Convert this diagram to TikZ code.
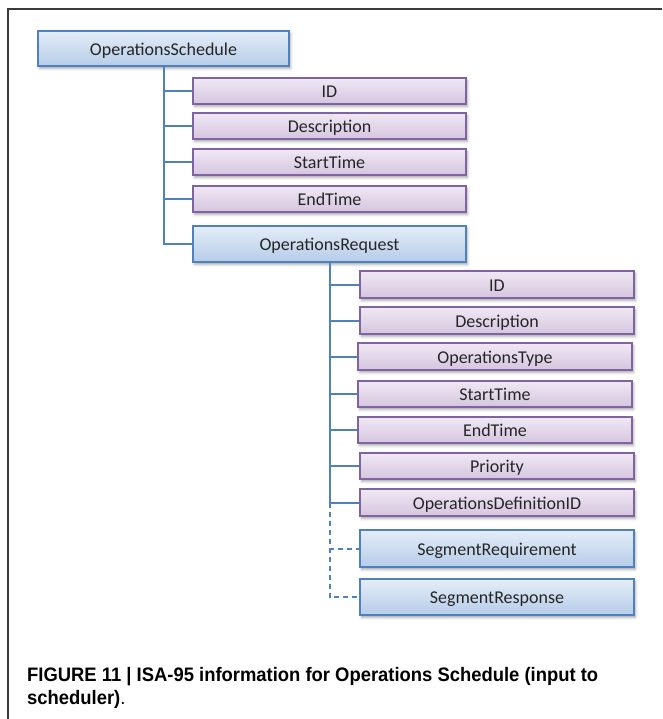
\documentclass[tikz,border=0pt]{standalone}
\usepackage{fontspec}
\usepackage{graphicx}
\setmainfont{Carlito}
\newfontfamily\capfont{Liberation Sans}
\usetikzlibrary{shadows.blur}
\definecolor{bluefr}{HTML}{4F81BD}
\definecolor{bluetop}{HTML}{E4EDF8}
\definecolor{bluebot}{HTML}{B6CCE8}
\definecolor{purpfr}{HTML}{8064A2}
\definecolor{purptop}{HTML}{F0E8F4}
\definecolor{purpbot}{HTML}{D5C5DF}
\definecolor{boxtext}{HTML}{262626}
\definecolor{framegray}{HTML}{3A3A3A}
% caption line 1 is condensed to a fixed width
\newlength\capw
\newcommand\capline{FIGURE 11 | ISA-95 information for Operations Schedule (input to}
\AtBeginDocument{%
  \settowidth{\capw}{\capfont\bfseries\fontsize{19.5}{24}\selectfont\capline}%
  \pgfmathsetmacro\capsx{571/\capw}}
\begin{document}
\begin{tikzpicture}[x=1pt,y=1pt,
  basebox/.style={draw, line width=1.9pt, inner sep=0pt,
    font=\fontsize{18}{20}\selectfont, text=boxtext,
    text height=13.4pt, text depth=0pt,
    blur shadow={shadow xshift=1.5pt, shadow yshift=-2.5pt,
      shadow blur radius=2.5pt, shadow opacity=35}},
  classbox/.style={basebox, draw=bluefr, top color=bluetop, bottom color=bluebot},
  attrbox/.style={basebox, draw=purpfr, top color=purptop, bottom color=purpbot},
  link/.style={draw=bluefr, line width=2pt},
  optlink/.style={link, dash pattern=on 5pt off 4pt}]
\useasboundingbox (0,0) rectangle (662,-719);
% frame
\draw[framegray, line width=1.6pt] (8,-719) -- (8,-9) -- (662,-9);

% root class
\node[classbox, minimum width=251pt, minimum height=35pt] (os) at (163.5,-48.5) {OperationsSchedule};

% attributes of the schedule
\node[attrbox, minimum width=273pt, minimum height=26pt] (sid)    at (329.5,-91)  {ID};
\node[attrbox, minimum width=273pt, minimum height=26pt] (sdesc)  at (329.5,-126) {Description};
\node[attrbox, minimum width=273pt, minimum height=26pt] (sstart) at (329.5,-162) {StartTime};
\node[attrbox, minimum width=273pt, minimum height=26pt] (send)   at (329.5,-199) {EndTime};
\node[classbox, minimum width=273pt, minimum height=36pt] (or)    at (329.5,-244) {OperationsRequest};

% attributes of the request
\node[attrbox, minimum width=274pt, minimum height=27pt] (rid)    at (497,-284.5) {ID};
\node[attrbox, minimum width=274pt, minimum height=27pt] (rdesc)  at (497,-320.5) {Description};
\node[attrbox, minimum width=274pt, minimum height=27pt] (rtype)  at (495,-356.5) {OperationsType};
\node[attrbox, minimum width=274pt, minimum height=26pt] (rstart) at (495,-394)   {StartTime};
\node[attrbox, minimum width=274pt, minimum height=26pt] (rend)   at (495,-430)   {EndTime};
\node[attrbox, minimum width=274pt, minimum height=26pt] (rprio)  at (497,-466)   {Priority};
\node[attrbox, minimum width=274pt, minimum height=27pt] (rdef)   at (497,-502.5) {OperationsDefinitionID};
\node[classbox, minimum width=274pt, minimum height=37pt] (sreq)  at (497,-548.5) {SegmentRequirement};
\node[classbox, minimum width=274pt, minimum height=36pt] (sresp) at (497,-597)   {SegmentResponse};

% tree connectors
\foreach \n in {sid,sdesc,sstart,send,or}
  \draw[link] (os.south) |- (\n.west);
\foreach \n in {rid,rdesc,rtype,rstart,rend,rprio,rdef}
  \draw[link] (or.south) |- (\n.west);
\coordinate (optfork) at (or.south |- rdef.west);
\draw[optlink] (optfork) |- (sreq.west);
\draw[optlink] (optfork) |- (sresp.west);

% caption
\node[anchor=base west, inner sep=0pt, font=\capfont\fontsize{19.5}{24}\selectfont] (cap1) at (27,-681)
  {\scalebox{\capsx}[1]{\bfseries\capline}};
\node[anchor=base west, inner sep=0pt, font=\capfont\fontsize{19.5}{24}\selectfont] (cap2) at (27,-704)
  {\scalebox{\capsx}[1]{{\bfseries scheduler)}.}};
\end{tikzpicture}
\end{document}
